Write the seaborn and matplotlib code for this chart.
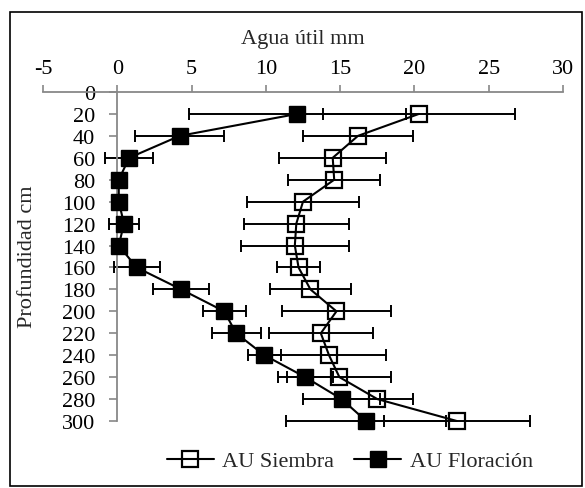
import matplotlib
matplotlib.use("Agg")
import matplotlib.pyplot as plt
import seaborn as sns
import pandas as pd
from matplotlib.patches import Rectangle

# ---- data ----
depth = [20, 40, 60, 80, 100, 120, 140, 160, 180, 200, 220, 240, 260, 280, 300]
siembra = [20.3, 16.2, 14.5, 14.6, 12.5, 12.05, 11.95, 12.2, 13.0, 14.75, 13.7, 14.25, 14.95, 17.5, 22.85]
siembra_err = [6.45, 3.7, 3.6, 3.1, 3.8, 3.55, 3.65, 1.45, 2.7, 3.65, 3.5, 3.85, 3.5, 2.4, 4.9]
floracion = [12.1, 4.2, 0.8, 0.1, 0.1, 0.45, 0.1, 1.3, 4.3, 7.2, 8.0, 9.9, 12.65, 15.1, 16.75]
floracion_err = [7.3, 3.0, 1.6, 0.0, 0.0, 1.0, 0.0, 1.55, 1.9, 1.45, 1.65, 1.1, 1.85, 2.6, 5.4]
labels = ["AU Siembra", "AU Floración"]
x_ticks = [-5, 0, 5, 10, 15, 20, 25, 30]
y_ticks = [0, 20, 40, 60, 80, 100, 120, 140, 160, 180, 200, 220, 240, 260, 280, 300]

sns.set_theme(style="white")
plt.rcParams["font.family"] = ["Liberation Serif", "DejaVu Serif"]
plt.rcParams["axes.unicode_minus"] = False

fig = plt.figure(figsize=(5.85, 4.89), dpi=100)
ax = fig.add_axes([43 / 585, 1 - 422 / 489, (563 - 43) / 585, (422 - 93) / 489])

df_s = pd.DataFrame({"x": siembra, "y": depth})
df_f = pd.DataFrame({"x": floracion, "y": depth})

for vals, errs in [(siembra, siembra_err), (floracion, floracion_err)]:
    eb = ax.errorbar(vals, depth, xerr=errs, fmt="none", ecolor="black",
                     elinewidth=1.4, capsize=4, capthick=1.4, zorder=2)
    for art in eb.get_children():
        art.set_clip_on(False)

sns.lineplot(data=df_s, x="x", y="y", orient="y", ax=ax, color="black",
             linewidth=1.5, marker="s", markersize=12, markerfacecolor="none",
             markeredgecolor="black", markeredgewidth=1.6, label=labels[0],
             zorder=3, clip_on=False)
sns.lineplot(data=df_f, x="x", y="y", orient="y", ax=ax, color="black",
             linewidth=1.5, marker="s", markersize=12, markerfacecolor="black",
             markeredgecolor="black", markeredgewidth=1.0, label=labels[1],
             zorder=4, clip_on=False)

ax.set_xlim(-5, 30)
ax.set_ylim(300, 0)
ax.set_xticks(x_ticks)
ax.set_yticks(y_ticks)
ax.xaxis.tick_top()
ax.xaxis.set_label_position("top")

for s in ["right", "bottom"]:
    ax.spines[s].set_visible(False)
ax.spines["left"].set_position(("data", 0))
for s in ["left", "top"]:
    ax.spines[s].set_color("#888888")
    ax.spines[s].set_linewidth(1.3)

ax.tick_params(axis="x", which="both", top=True, bottom=False, direction="out",
               length=5, width=1.2, color="#888888", pad=5, labelsize=16,
               labelcolor="black")
ax.tick_params(axis="y", which="both", left=True, right=False, direction="out",
               length=6, width=1.2, color="#888888", pad=10, labelsize=16,
               labelcolor="black")

ax.set_xlabel("Agua útil mm", fontsize=16, labelpad=11.5)
ax.set_ylabel("")
fig.text(28 / 585, 1 - 257 / 489, "Profundidad cm", rotation=90, fontsize=16,
         ha="center", va="center")

ax.grid(False)
ax.set_facecolor("none")

leg = ax.legend(loc="center", bbox_to_anchor=(350 / 585, 1 - 462 / 489),
                bbox_transform=fig.transFigure, ncol=2, frameon=False,
                fontsize=16, handlelength=2.1, columnspacing=0.9,
                handletextpad=0.4)

fig.patches.append(Rectangle((10 / 585, 2 / 489), 572 / 585, 474 / 489,
                             transform=fig.transFigure, fill=False,
                             edgecolor="black", linewidth=1.2))

fig.savefig("out.png", dpi=100, facecolor="white")
